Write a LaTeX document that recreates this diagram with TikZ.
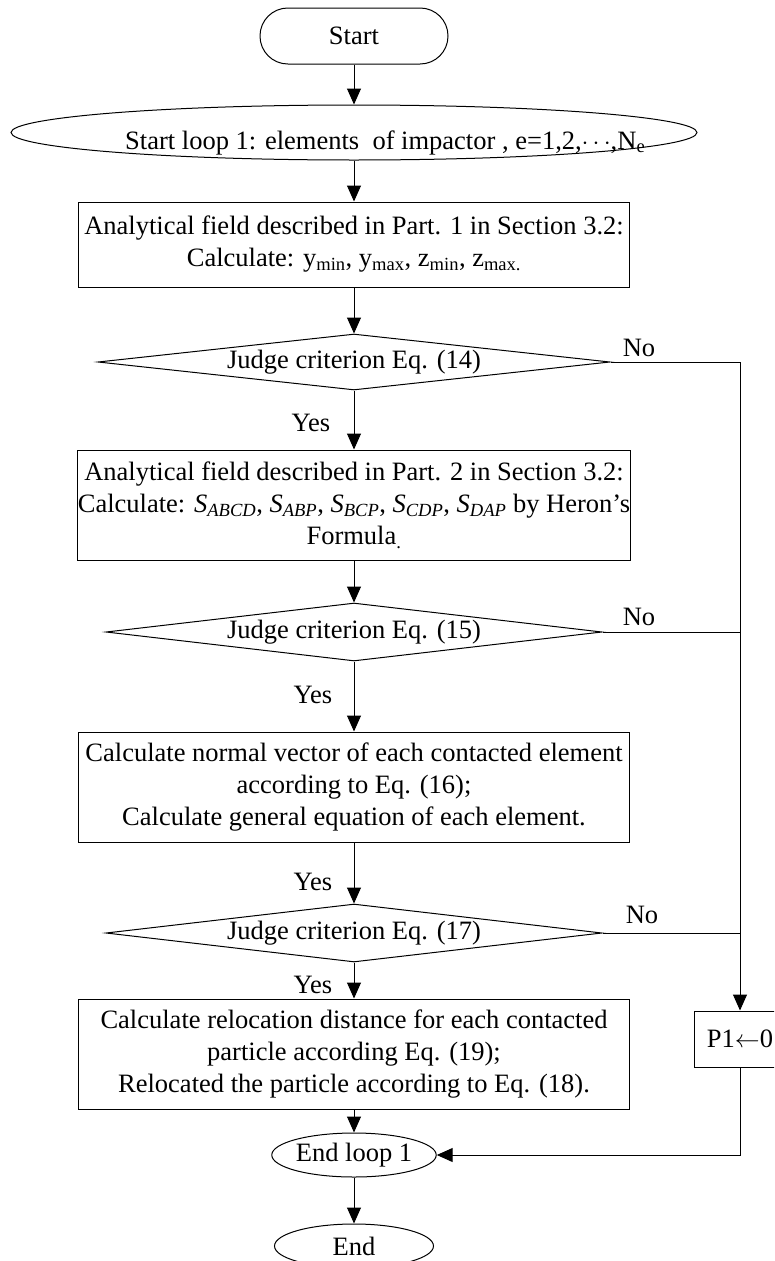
\documentclass[tikz,border=0pt]{standalone}
\usepackage{fontspec}
\setmainfont{Liberation Serif}
\usetikzlibrary{shapes.geometric,arrows.meta}

\begin{document}
\begin{tikzpicture}[x=1pt,y=-1pt,
  every node/.style={font=\fontsize{26.5}{32}\selectfont, text=black},
  line/.style={draw=black, line width=1pt},
  arr/.style={line, -{Triangle[length=16pt,width=14pt]}},
  startbox/.style={draw, line width=1pt, rectangle, rounded corners=27.9pt,
    minimum width=188pt, minimum height=56pt, inner sep=0pt},
  loopshape/.style={draw, line width=1pt, ellipse, inner sep=0pt,
    minimum width=686pt, minimum height=55pt},
  procbox/.style={draw, line width=1pt, rectangle, align=center,
    inner sep=0pt, minimum width=551pt},
  decision/.style={draw, line width=1pt, diamond, shape aspect=9,
    inner sep=0pt, minimum width=496pt, minimum height=58pt},
  terminal/.style={draw, line width=1pt, ellipse, inner sep=0pt,
    minimum width=159pt, minimum height=44pt},
  tag/.style={inner sep=0pt}
]
\clip (0,0) rectangle (774,1261);

% main column
\node[startbox] (start) at (354,36) {Start};
\node[loopshape] (loop) at (354,132.5) {};
\node[tag, anchor=base west] (looptext) at (125,149)
  {Start loop 1: elements~ of impactor , e=1,2,$\cdots$,N\textsubscript{e}};

\node[procbox, minimum height=85pt] (b1) at (354,244.5)
  {Analytical field described in Part. 1 in Section 3.2:\\
   Calculate: y\textsubscript{min}, y\textsubscript{max}, z\textsubscript{min}, z\textsubscript{max.}};

\node[decision, minimum width=512pt, minimum height=56pt] (d1) at (354,362)
  {Judge criterion Eq. (14)};

\node[procbox, minimum height=110pt] (b2) at (354,505)
  {Analytical field described in Part. 2 in Section 3.2:\\
   Calculate: \textit{S}\textsubscript{\textit{ABCD}}, \textit{S}\textsubscript{\textit{ABP}},
   \textit{S}\textsubscript{\textit{BCP}}, \textit{S}\textsubscript{\textit{CDP}},
   \textit{S}\textsubscript{\textit{DAP}} by Heron’s\\
   Formula\textsubscript{.}};

\node[decision] (d2) at (354,632) {Judge criterion Eq. (15)};

\node[procbox, minimum height=110pt] (b3) at (354,787)
  {Calculate normal vector of each contacted element\\
   according to Eq. (16);\\
   Calculate general equation of each element.};

\node[decision] (d3) at (354,933) {Judge criterion Eq. (17)};

\node[procbox, minimum height=110pt] (b4) at (354,1054)
  {Calculate relocation distance for each contacted\\
   particle according Eq. (19);\\
   Relocated the particle according to Eq. (18).};

\node[terminal] (endloop) at (354,1155) {End loop 1};
\node[terminal] (stop) at (354,1246) {End};

% side branch
\node[draw, line width=1pt, rectangle, minimum width=92pt, minimum height=56pt,
  inner sep=0pt] (p1) at (740,1039) {P1$\leftarrow$0};

% branch labels
\node[tag] (yes1) at (311,423) {Yes};
\node[tag] (yes2) at (313,695) {Yes};
\node[tag] (yes3) at (313,882) {Yes};
\node[tag] (yes4) at (313,985) {Yes};
\node[tag] (no1) at (639,348) {No};
\node[tag] (no2) at (639,617) {No};
\node[tag] (no3) at (642,915) {No};

% connectors
\draw[arr] (start) -- (loop);
\draw[arr] (loop) -- (b1);
\draw[arr] (b1) -- (d1);
\draw[arr] (d1) -- (b2);
\draw[arr] (b2) -- (d2);
\draw[arr] (d2) -- (b3);
\draw[arr] (b3) -- (d3);
\draw[arr] (d3) -- (b4);
\draw[arr] (b4) -- (endloop);
\draw[arr] (endloop) -- (stop);

\draw[arr] (d1.east) -| (p1.north);
\draw[line] (d2.east) -- (d2.east -| p1.north);
\draw[line] (d3.east) -- (d3.east -| p1.north);
\draw[arr] (p1.south) |- (endloop.east);
\end{tikzpicture}
\end{document}
